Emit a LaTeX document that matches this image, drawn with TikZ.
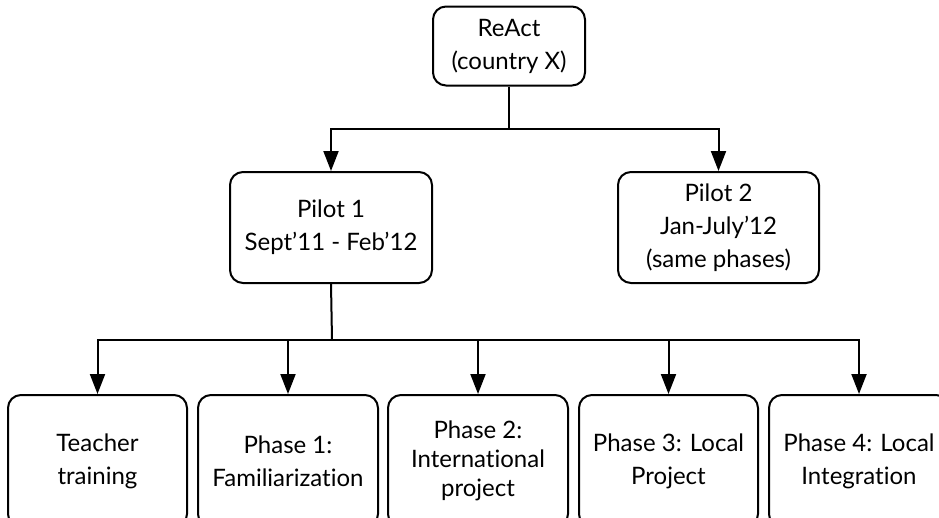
\documentclass[tikz,border=0pt]{standalone}
\usepackage{fontspec}
\setmainfont{Lato}[Ligatures={NoCommon}]
\usetikzlibrary{arrows.meta}

\tikzset{
  box/.style={draw, line width=2pt, rounded corners=13pt, align=center,
    font=\fontsize{24}{33}\selectfont},
  arr/.style={-{Triangle[length=20pt,width=15pt]}, line width=2pt}
}

\begin{document}
\begin{tikzpicture}[x=1pt, y=-1pt]
    \useasboundingbox (0,0) rectangle (939,517);
    \clip (0,0) rectangle (939,517);

    % top level
    \node[box, minimum width=152pt, minimum height=79pt] (react) at (509,46) {ReAct\\(country X)};

    % pilots
    \node[box, minimum width=202pt, minimum height=111pt] (pilot1) at (331,227.5) {Pilot 1\\Sept’11 - Feb’12};
    \node[box, minimum width=201pt, minimum height=111pt] (pilot2) at (718.5,227.5) {Pilot 2\\Jan-July’12\\(same phases)};

    % phases
    \node[box, minimum width=179pt, minimum height=132pt] (teach) at (97.5,461) {Teacher\\training};
    \node[box, minimum width=180pt, minimum height=132pt] (ph1) at (288,461) {Phase 1:\\Familiarization};
    \node[box, minimum width=180pt, minimum height=132pt, font=\fontsize{24}{29}\selectfont] (ph2) at (478,461) {Phase 2:\\International\\project};
    \node[box, minimum width=179pt, minimum height=132pt] (ph3) at (668.5,461) {Phase 3: Local\\Project};
    \node[box, minimum width=180pt, minimum height=132pt] (ph4) at (859,461) {Phase 4: Local\\Integration};

    \coordinate (split) at (509,129);
    \coordinate (split2) at (332,340);

    \draw[arr] (react.south) -- (split) -| (pilot1.north);
    \draw[arr] (split) -| (pilot2.north);

    \draw[line width=2pt] (pilot1.south) -- (split2);
    \foreach \n in {teach,ph1,ph2,ph3,ph4} {
        \draw[arr] (split2) -| (\n.north);
    }
\end{tikzpicture}
\end{document}
